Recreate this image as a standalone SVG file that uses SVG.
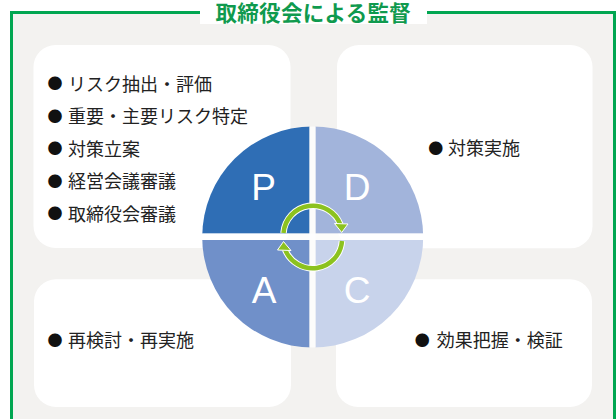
<svg xmlns="http://www.w3.org/2000/svg" width="616" height="419" viewBox="0 0 616 419">
<style>
.box{fill:#ffffff;}
.jp{font-family:"Noto Sans CJK JP","Noto Sans CJK SC",sans-serif;font-size:18px;fill:#222222;}
.bul{font-family:"Noto Sans CJK JP",sans-serif;font-size:15px;fill:#111111;text-anchor:middle;}
.let{font-family:"Liberation Sans",Arial,sans-serif;font-size:37px;fill:#ffffff;text-anchor:middle;}
.arc{fill:none;stroke:#8cc21f;stroke-width:4.5;}
.arcw{fill:none;stroke:#ffffff;stroke-width:6.5;}
.head{fill:#8cc21f;stroke:#ffffff;stroke-width:1;}
</style>
<defs>
<clipPath id="circ"><circle cx="312.7" cy="237" r="110.5"/></clipPath>
</defs>
<rect x="0" y="0" width="616" height="419" fill="#ffffff"/>
<g id="frame">
<rect x="11.5" y="12.5" width="603" height="430" fill="#f3f2f0" stroke="#00a651" stroke-width="3"/>
<rect x="200" y="0" width="227" height="24" fill="#ffffff"/>
<text x="313.3" y="20.5" text-anchor="middle" font-family="'Noto Sans CJK JP','Noto Sans CJK SC',sans-serif" font-size="21.5" font-weight="bold" fill="#0f9a4e" letter-spacing="0.3">取締役会による監督</text>
</g>
<g id="box-plan">
<rect class="box" x="33.5" y="45" width="257" height="203" rx="22"/>
<text class="bul" x="55" y="89">●</text><text class="jp" x="68" y="90.5">リスク抽出・評価</text>
<text class="bul" x="55" y="121.5">●</text><text class="jp" x="68" y="123">重要・主要リスク特定</text>
<text class="bul" x="55" y="154">●</text><text class="jp" x="68" y="155.5">対策立案</text>
<text class="bul" x="55" y="186.5">●</text><text class="jp" x="68" y="188">経営会議審議</text>
<text class="bul" x="55" y="219">●</text><text class="jp" x="68" y="220.5">取締役会審議</text>
</g>
<g id="box-do">
<rect class="box" x="337" y="45" width="255.5" height="203.3" rx="22"/>
<text class="bul" x="435.7" y="153.5">●</text><text class="jp" x="448" y="155">対策実施</text>
</g>
<g id="box-act">
<rect class="box" x="34" y="279.3" width="257" height="127.7" rx="22"/>
<text class="bul" x="55" y="345.5">●</text><text class="jp" x="68" y="347">再検討・再実施</text>
</g>
<g id="box-check">
<rect class="box" x="336" y="279.3" width="256" height="127.7" rx="22"/>
<text class="bul" x="422.3" y="345.5">●</text><text class="jp" x="436.7" y="347">効果把握・検証</text>
</g>
<g id="pdca" clip-path="url(#circ)">
<rect x="200" y="124" width="109.5" height="109.5" fill="#2f6eb5"/>
<rect x="315.5" y="124" width="110" height="109.5" fill="#a2b4db"/>
<rect x="200" y="240" width="109.5" height="110" fill="#7090c9"/>
<rect x="315.5" y="240" width="110" height="110" fill="#c8d3eb"/>
<rect x="309.5" y="124" width="6" height="226" fill="#ffffff" opacity="0.75"/>
<rect x="200" y="233.5" width="226" height="6.5" fill="#ffffff" opacity="0.75"/>
</g>
<g id="letters">
<text class="let" x="263.5" y="200">P</text>
<text class="let" x="357" y="200">D</text>
<text class="let" x="264" y="302.5">A</text>
<text class="let" x="357" y="303">C</text>
</g>
<g id="connectors">
<path class="arcw" d="M 283.5 233 A 29.5 29.5 0 0 1 340.4 224.5"/>
<path class="arc" d="M 283.5 233 A 29.5 29.5 0 0 1 340.4 224.5"/>
<polygon class="head" points="334.5,223.5 348,224 341.7,232.5"/>
<path class="arcw" d="M 342 241 A 29.5 29.5 0 0 1 285.1 249.5"/>
<path class="arc" d="M 342 241 A 29.5 29.5 0 0 1 285.1 249.5"/>
<polygon class="head" points="291,250.5 277.5,250 283.5,241.5"/>
</g>
</svg>
